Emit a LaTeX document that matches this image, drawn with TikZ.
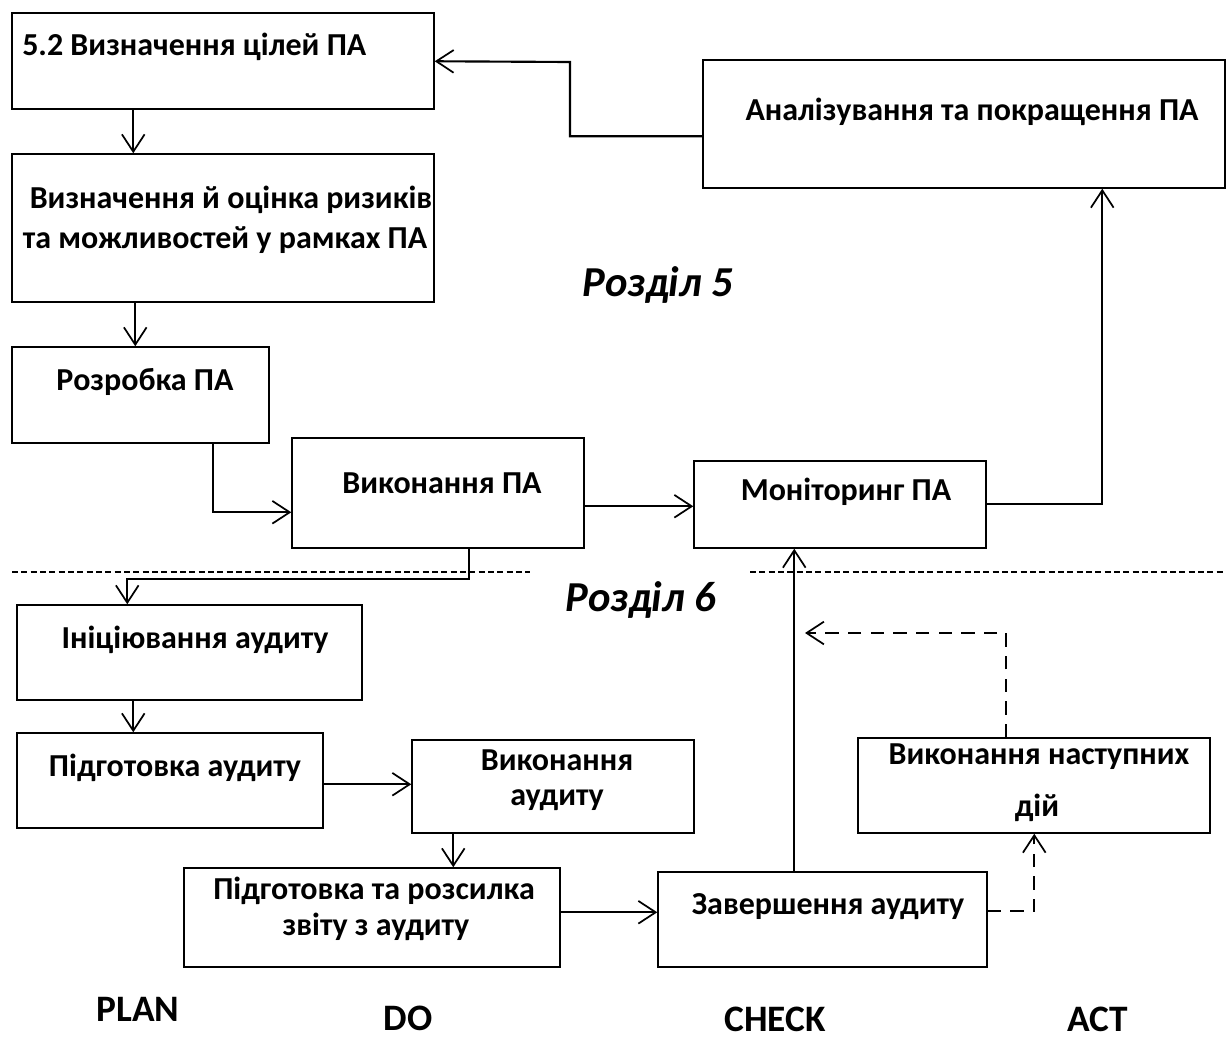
\documentclass[tikz,border=0pt]{standalone}
\usepackage{fontspec}
\setmainfont{Carlito}
\usetikzlibrary{arrows.meta,calc}
\tikzset{
  box/.style={draw, line width=1.1pt, rectangle, inner sep=0pt},
  txt/.style={font=\fontsize{24}{29}\selectfont\bfseries, inner sep=0pt, align=center},
  sec/.style={font=\fontsize{32}{38}\selectfont\bfseries\itshape, inner sep=0pt},
  pdca/.style={font=\fontsize{28}{33}\selectfont\bfseries, inner sep=0pt},
  conn/.style={line width=1.6pt, -{Straight Barb[length=13pt,width=17pt,line width=1.3pt]}},
  dconn/.style={line width=1.4pt, dash pattern=on 10pt off 7pt, -{Straight Barb[length=13pt,width=17pt,line width=1.3pt]}},
  sep/.style={line width=1pt, dash pattern=on 4.5pt off 2.5pt}
}
\newcommand\mybox[5]{%
  \pgfmathsetmacro\bw{(#4-#2)*0.75}%
  \pgfmathsetmacro\bh{(#5-#3)*0.75}%
  \node[box, minimum width=\bw pt, minimum height=\bh pt] (#1) at ({(#2+#4)/2},{(#3+#5)/2}) {};}
\begin{document}
\begin{tikzpicture}[x=0.75pt,y=-0.75pt]
\useasboundingbox (0,0) rectangle (1226,1039);
% boxes
\mybox{b1}{12}{13}{434}{109}
\mybox{b2}{12}{154}{434}{302}
\mybox{b3}{12}{347}{269}{443}
\mybox{b4}{292}{438}{584}{548}
\mybox{b5}{694}{461}{986}{548}
\mybox{b6}{703}{60}{1225}{188}
\mybox{b7}{17}{605}{362}{700}
\mybox{b8}{17}{733}{323}{828}
\mybox{b9}{412}{740}{694}{833}
\mybox{b10}{184}{868}{560}{967}
\mybox{b11}{658}{872}{987}{967}
\mybox{b12}{858}{738}{1210}{833}
% texts
\node[txt, anchor=west] (t1) at (22,47) {5.2 Визначення цілей ПА};
\node[txt] (t2a) at (231,200) {Визначення й оцінка ризиків};
\node[txt] (t2b) at (225,240) {та можливостей у рамках ПА};
\node[txt] (t3) at (145,382) {Розробка ПА};
\node[txt] (t4) at (442,483) {Виконання ПА};
\node[txt] (t5) at (846,492) {Моніторинг ПА};
\node[txt] (t6) at (972,112) {Аналізування та покращення ПА};
\node[txt] (t7) at (195,640) {Ініціювання аудиту};
\node[txt] (t8) at (175,768) {Підготовка аудиту};
\node[txt] (t9a) at (557,760) {Виконання};
\node[txt] (t9b) at (557,800) {аудиту};
\node[txt] (t10a) at (374,891) {Підготовка та розсилка};
\node[txt] (t10b) at (376,927) {звіту з аудиту};
\node[txt] (t11) at (828,907) {Завершення аудиту};
\node[txt] (t12a) at (1039,757) {Виконання наступних};
\node[txt] (t12b) at (1037,808) {дій};
\node[sec] (s5) at (658,285) {Розділ 5};
\node[sec] (s6) at (641,600) {Розділ 6};
\node[pdca] (plan) at (138,1009) {PLAN};
\node[pdca] (do) at (408,1018) {DO};
\node[pdca] (check) at (775,1019) {CHECK};
\node[pdca] (act) at (1098,1019) {ACT};
% separators
\coordinate (sl1) at (12,572);
\coordinate (sl2) at (530,572);
\coordinate (sr1) at (750,572);
\coordinate (sr2) at (1226,572);
\draw[sep] (sl1) -- (sl2);
\draw[sep] (sr1) -- (sr2);
% connectors
\draw[conn] ($(b6.north west)+(0,77)$) -| (570,62) -- ($(b1.north east)+(0,49)$);
\draw[conn] ($(b1.south west)+(122,0)$) -- ($(b2.north west)+(122,0)$);
\draw[conn] ($(b2.south west)+(124,0)$) -- ($(b3.north west)+(124,0)$);
\draw[conn] ($(b3.south west)+(202,0)$) |- ($(b4.north west)+(0,75)$);
\draw[conn] ($(b4.north east)+(0,69)$) -- ($(b5.north west)+(0,46)$);
\draw[conn] ($(b5.north east)+(0,44)$) -| ($(b6.south west)+(400,0)$);
\draw[conn] ($(b4.south west)+(178,0)$) -- ++(0,30) -| ($(b7.north west)+(111,0)$);
\draw[conn] ($(b7.south west)+(117,0)$) -- ($(b8.north west)+(117,0)$);
\draw[conn] ($(b8.north east)+(0,52)$) -- ($(b9.north west)+(0,45)$);
\draw[conn] ($(b9.south west)+(42,0)$) -- ($(b10.north west)+(270,0)$);
\draw[conn] ($(b10.north east)+(0,45)$) -- ($(b11.north west)+(0,41)$);
\draw[conn] ($(b11.north west)+(137,0)$) -- ($(b5.south west)+(101,0)$);
\coordinate (dend) at (805,633);
\draw[dconn] ($(b12.north west)+(149,0)$) |- (dend);
\draw[dconn] ($(b11.north east)+(0,40)$) -| ($(b12.south west)+(177,0)$);
\end{tikzpicture}
\end{document}
